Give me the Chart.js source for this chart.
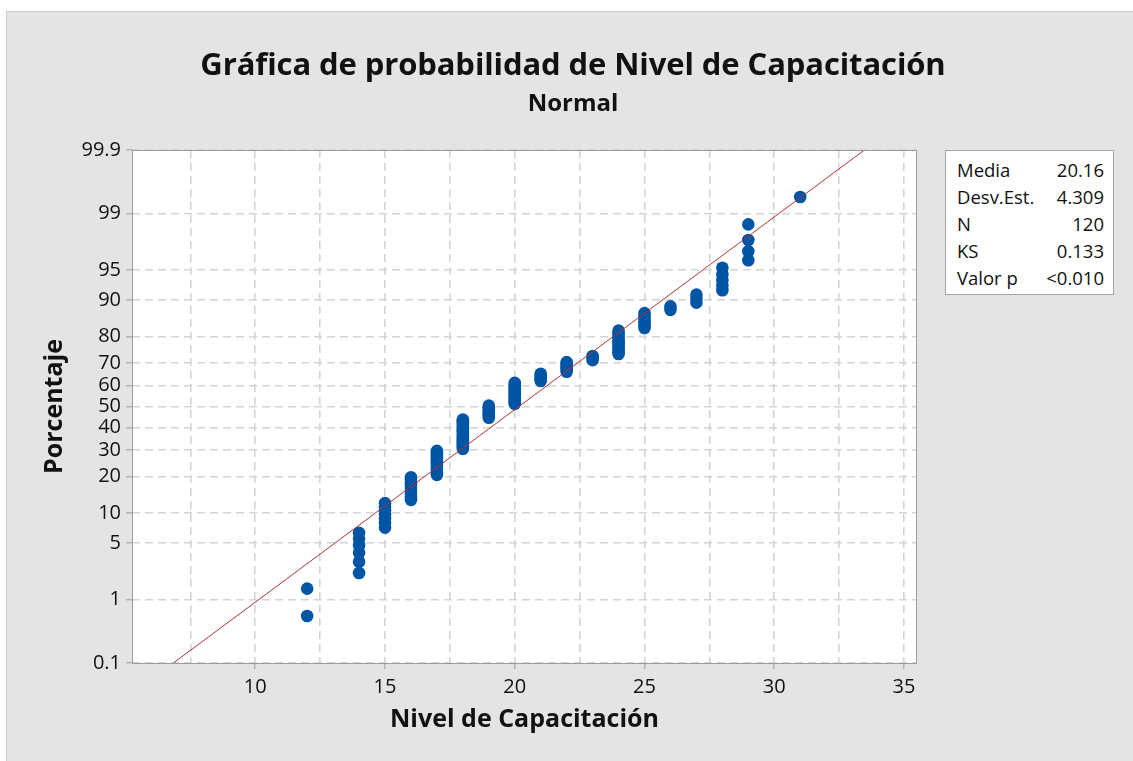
<!DOCTYPE html>
<html>
<head>
<meta charset="utf-8">
<script src="https://cdn.jsdelivr.net/npm/chart.js"></script>
<style>
  html, body { margin: 0; padding: 0; background: #fff; }
  body { width: 1133px; height: 761px; position: relative; overflow: hidden; font-family: "Open Sans", "Noto Sans", sans-serif; color: #111; }
  #frame { position: absolute; left: 6px; top: 11px; width: 1127px; height: 750px; background: #e4e4e4; border-left: 1px solid #cdcdcd; border-top: 1px solid #cdcdcd; box-sizing: border-box; }
  #chart { position: absolute; left: 0; top: 0; }
  .title { position: absolute; left: 0; width: 1146px; text-align: center; font-weight: bold; white-space: nowrap; }
  #t1 { top: 42px; font-size: 31px; letter-spacing: -0.1px; }
  #t2 { top: 85px; font-size: 24px; }
  #stats { position: absolute; left: 945px; top: 150px; width: 169px; height: 145px; background: #fff; border: 1px solid #a6a6a6; box-sizing: border-box; padding: 5px 9px 0 11px; font-size: 18.5px; }
  #stats div { display: flex; justify-content: space-between; height: 27px; line-height: 27px; }
</style>
</head>
<body>
<div id="frame"></div>
<canvas id="chart" width="1133" height="761"></canvas>
<div class="title" id="t1">Gráfica de probabilidad de Nivel de Capacitación</div>
<div class="title" id="t2">Normal</div>
<div id="stats"></div>

<script>
// valores de la variable y cuántos puntos hay en cada columna
var niveles = [12, 14, 15, 16, 17, 18, 19, 20, 21, 22, 23, 24, 25, 26, 27, 28, 29, 31];
var conteos = [2, 6, 7, 9, 12, 17, 8, 13, 5, 6, 3, 11, 6, 2, 3, 5, 4, 1];

// tabla de estadísticos
var statNames = ['Media', 'Desv.Est.', 'N', 'KS', 'Valor p'];
var statValues = ['20.16', '4.309', '120', '0.133', '<0.010'];
var media = 20.16;
var desvEst = 4.309;

// etiquetas de los ejes
var yTickLabels = [0.1, 1, 5, 10, 20, 30, 40, 50, 60, 70, 80, 90, 95, 99, 99.9];
var xTickValues = [7.5, 10, 12.5, 15, 17.5, 20, 22.5, 25, 27.5, 30, 32.5, 35];

// inversa de la normal estándar (Acklam)
function probit(p) {
    var a = [-3.969683028665376e+01, 2.209460984245205e+02, -2.759285104469687e+02, 1.383577518672690e+02, -3.066479806614716e+01, 2.506628277459239e+00];
    var b = [-5.447609879822406e+01, 1.615858368580409e+02, -1.556989798598866e+02, 6.680131188771972e+01, -1.328068155288572e+01];
    var c = [-7.784894002430293e-03, -3.223964580411365e-01, -2.400758277161838e+00, -2.549732539343734e+00, 4.374664141464968e+00, 2.938163982698783e+00];
    var d = [7.784695709041462e-03, 3.224671290700398e-01, 2.445134137142996e+00, 3.754408661907416e+00];
    var pl = 0.02425, q, r;
    if (p < pl) {
        q = Math.sqrt(-2 * Math.log(p));
        return (((((c[0] * q + c[1]) * q + c[2]) * q + c[3]) * q + c[4]) * q + c[5]) / ((((d[0] * q + d[1]) * q + d[2]) * q + d[3]) * q + 1);
    }
    if (p > 1 - pl) {
        q = Math.sqrt(-2 * Math.log(1 - p));
        return -(((((c[0] * q + c[1]) * q + c[2]) * q + c[3]) * q + c[4]) * q + c[5]) / ((((d[0] * q + d[1]) * q + d[2]) * q + d[3]) * q + 1);
    }
    q = p - 0.5;
    r = q * q;
    return (((((a[0] * r + a[1]) * r + a[2]) * r + a[3]) * r + a[4]) * r + a[5]) * q / (((((b[0] * r + b[1]) * r + b[2]) * r + b[3]) * r + b[4]) * r + 1);
}

// tabla de estadísticos en el recuadro
var statsBox = document.getElementById('stats');
for (var s = 0; s < statNames.length; s++) {
    var row = document.createElement('div');
    row.innerHTML = '<span>' + statNames[s] + '</span><span>' + statValues[s] + '</span>';
    statsBox.appendChild(row);
}

// puntos: rango mediano (i - 0.3) / (n + 0.4)
var n = conteos.reduce(function (t, v) { return t + v; }, 0);
var puntos = [];
var rango = 0;
for (var i = 0; i < niveles.length; i++) {
    for (var j = 0; j < conteos[i]; j++) {
        rango++;
        puntos.push({ x: niveles[i], y: probit((rango - 0.3) / (n + 0.4)) });
    }
}

var zMin = probit(0.001);
var zMax = probit(0.999);
var recta = [
    { x: media + desvEst * zMin, y: zMin },
    { x: media + desvEst * zMax, y: zMax }
];

var fondoYMarco = {
    id: 'fondoYMarco',
    beforeDraw: function (chart) {
        var a = chart.chartArea, ctx = chart.ctx;
        ctx.save();
        ctx.fillStyle = '#ffffff';
        ctx.fillRect(a.left, a.top, a.right - a.left, a.bottom - a.top);
        ctx.restore();
    },
    afterDraw: function (chart) {
        var a = chart.chartArea, ctx = chart.ctx;
        ctx.save();
        ctx.strokeStyle = '#9c9c9c';
        ctx.lineWidth = 1;
        ctx.strokeRect(a.left + 0.5, a.top + 0.5, a.right - a.left - 1, a.bottom - a.top);
        ctx.restore();
    }
};

var fuente = "'Open Sans', 'Noto Sans', sans-serif";

new Chart(document.getElementById('chart').getContext('2d'), {
    type: 'scatter',
    data: {
        datasets: [
            {
                type: 'line',
                data: recta,
                borderColor: '#b03434',
                borderWidth: 1,
                pointRadius: 0,
                fill: false,
                order: 0
            },
            {
                data: puntos,
                backgroundColor: '#0055a5',
                borderColor: '#0055a5',
                pointRadius: 6.3,
                pointBorderWidth: 0,
                order: 1
            }
        ]
    },
    options: {
        responsive: false,
        animation: false,
        devicePixelRatio: 1,
        layout: { padding: { left: 0, top: 150, right: 216, bottom: 0 } },
        plugins: { legend: { display: false }, tooltip: { enabled: false } },
        scales: {
            x: {
                type: 'linear',
                min: 5.25,
                max: 35.5,
                afterBuildTicks: function (scale) {
                    scale.ticks = xTickValues.map(function (v) { return { value: v }; });
                },
                afterFit: function (scale) { scale.height = 98; },
                ticks: {
                    autoSkip: false,
                    maxRotation: 0,
                    padding: 6,
                    color: '#111',
                    font: { family: fuente, size: 20 },
                    callback: function (v) { return v % 5 === 0 ? String(v) : ''; }
                },
                grid: {
                    color: '#d4d4d4',
                    lineWidth: 1.6,
                    tickLength: 6,
                    tickWidth: 1,
                    tickBorderDash: [],
                    tickColor: function (ctx) {
                        return ctx.tick && ctx.tick.value % 5 === 0 ? '#9c9c9c' : 'rgba(0,0,0,0)';
                    }
                },
                border: { display: false, dash: [8, 5] },
                title: {
                    display: true,
                    text: 'Nivel de Capacitación',
                    color: '#111',
                    font: { family: fuente, size: 25, weight: 'bold' },
                    padding: { top: 0, bottom: 26 }
                }
            },
            y: {
                type: 'linear',
                min: zMin,
                max: zMax,
                afterBuildTicks: function (scale) {
                    scale.ticks = yTickLabels.map(function (p) { return { value: probit(p / 100) }; });
                },
                afterFit: function (scale) { scale.width = 132; },
                ticks: {
                    autoSkip: false,
                    padding: 5,
                    color: '#111',
                    font: { family: fuente, size: 20 },
                    callback: function (v, idx) { return String(yTickLabels[idx]); }
                },
                grid: {
                    color: '#d4d4d4',
                    lineWidth: 1.6,
                    tickLength: 6,
                    tickWidth: 1,
                    tickBorderDash: [],
                    tickColor: '#9c9c9c'
                },
                border: { display: false, dash: [8, 5] },
                title: {
                    display: true,
                    text: 'Porcentaje',
                    color: '#111',
                    font: { family: fuente, size: 25, weight: 'bold' },
                    padding: { top: 40, bottom: 0 }
                }
            }
        }
    },
    plugins: [fondoYMarco]
});
</script>
</body>
</html>
